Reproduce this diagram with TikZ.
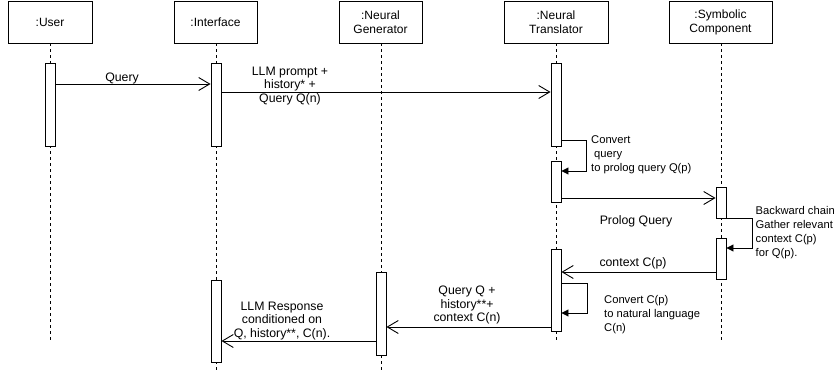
\documentclass[tikz,border=0pt]{standalone}
\usepackage{fontspec}
\setmainfont{Liberation Sans}
\usetikzlibrary{arrows.meta}
\begin{document}
\begin{tikzpicture}[x=1pt,y=-1pt,
  head/.style={draw, line width=0.9pt, fill=white, minimum height=42pt, align=center, inner sep=0pt, font=\fontsize{12}{14}\selectfont},
  bar/.style={draw, line width=0.9pt, fill=white, minimum width=10pt, inner sep=0pt},
  life/.style={line width=0.8pt, dash pattern=on 3pt off 3pt},
  msg/.style={line width=0.9pt, -{Straight Barb[length=11pt,width=13pt,line width=0.9pt]}},
  selfmsg/.style={line width=0.9pt, -{Triangle[length=7pt,width=7pt]}},
  lbl/.style={font=\fontsize{12.3}{13.8}\selectfont, align=center, inner sep=0pt},
  note/.style={font=\fontsize{11.2}{14}\selectfont, align=left, inner sep=0pt, anchor=north west},
]
\useasboundingbox[fill=white] (0,0) rectangle (836,372);

% heads
\node[head, minimum width=84pt] (u) at (50,22) {:User};
\node[head, minimum width=83pt] (i) at (215.5,22) {:Interface};
\node[head, minimum width=83pt] (ng) at (380.5,22) {:Neural\\Generator};
\node[head, minimum width=104pt] (nt) at (556,22) {:Neural\\Translator};
\node[head, minimum width=103pt] (sc) at (720.5,22) {:Symbolic\\Component};

% lifeline ends
\coordinate (uEnd) at (50,341);
\coordinate (iEnd) at (216,372);
\coordinate (ngEnd) at (381,372);
\coordinate (ntEnd) at (556,342);
\coordinate (scEnd) at (721,342);
\draw[life] (u.south) -- (uEnd);
\draw[life] (i.south -| iEnd) -- (iEnd);
\draw[life] (ng.south -| ngEnd) -- (ngEnd);
\draw[life] (nt.south) -- (ntEnd);
\draw[life] (sc.south -| scEnd) -- (scEnd);

% activation bars
\node[bar, minimum height=83pt] (u1) at (50,104.5) {};
\node[bar, minimum height=83pt] (i1) at (216,104.5) {};
\node[bar, minimum height=83pt] (nt1) at (556,104.5) {};
\node[bar, minimum height=41pt] (nt2) at (556,181.5) {};
\node[bar, minimum height=31pt] (sc1) at (721,202.5) {};
\node[bar, minimum height=41pt] (sc2) at (721,258.5) {};
\node[bar, minimum height=82pt] (nt3) at (556,290) {};
\node[bar, minimum height=83pt] (ng1) at (381,313.5) {};
\node[bar, minimum height=82pt] (i2) at (216,321) {};

% messages
\draw[msg] (u1.east |- 0,84) -- (i1.west |- 0,84);
\node[lbl] (l1) at (122,78) {Query};

\draw[msg] (i1.east |- 0,92) -- (nt1.west |- 0,92);
\node[lbl] (l2) at (290,86) {LLM prompt +\\history* +\\Query Q(n)};

\draw[selfmsg] (nt1.east |- 0,140) -- ++(25,0) |- (nt2.east |- 0,171);
\node[note] (l3) at (591,135) {Convert\\\hspace{3pt}query\\to prolog query Q(p)};

\draw[msg] (nt2.east |- 0,198) -- (sc1.west |- 0,198);
\node[lbl] (l4) at (636,221) {Prolog Query};

\draw[selfmsg] (sc1.east |- 0,218) -- ++(26,0) |- (sc2.east |- 0,248);
\node[note] (l5) at (755.5,206) {Backward chain\\Gather relevant\\context C(p)\\for Q(p).};

\draw[msg] (sc2.west |- 0,272) -- (nt3.east |- 0,272);
\node[lbl] (l6) at (633,263) {context C(p)};

\draw[selfmsg] (nt3.east |- 0,283) -- ++(26,0) |- (nt3.east |- 0,313);
\node[note] (l7) at (604,295) {Convert C(p)\\to natural language\\C(n)};

\draw[msg] (nt3.west |- 0,327) -- (ng1.east |- 0,327);
\node[lbl] (l8) at (467,305) {Query Q +\\history**+\\context C(n)};

\draw[msg] (ng1.west |- 0,341) -- (i2.east |- 0,341);
\node[lbl] (l9) at (282,321) {LLM Response\\conditioned on\\Q, history**, C(n).};
\end{tikzpicture}
\end{document}
